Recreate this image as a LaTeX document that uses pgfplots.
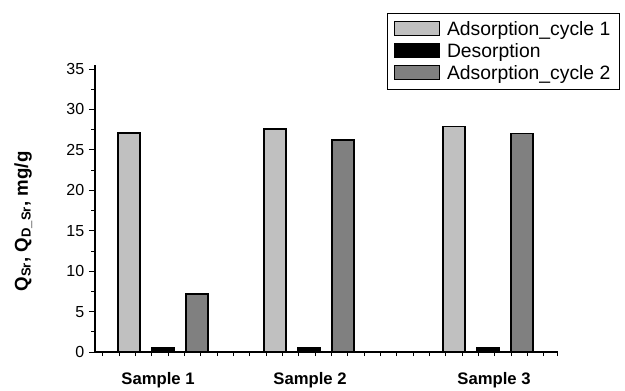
\documentclass[border=0pt]{standalone}
\usepackage{pgfplots}
\pgfplotsset{compat=1.18}
\usepackage{fontspec}
\setmainfont{Liberation Sans}
\definecolor{lgray}{HTML}{C0C0C0}
\definecolor{dgray}{HTML}{808080}
\begin{document}
\begin{tikzpicture}[x=0.75pt,y=0.75pt]
\path[use as bounding box] (0,0) rectangle (625,390);
\begin{axis}[
  at={(71.25pt,28.5pt)}, anchor=origin,
  scale only axis, width=347.25pt, height=215.25pt,
  xmin=95, xmax=558, ymin=0, ymax=35.5,
  axis x line=bottom, axis y line=left,
  axis line style={-, line width=0.8pt},
  ytick={0,5,...,35}, minor ytick={2.5,7.5,...,32.5},
  xtick={158,310,494}, xticklabels={Sample 1,Sample 2,Sample 3},
  xticklabel style={font=\fontsize{12.5}{14}\selectfont\bfseries, yshift=-7pt},
  minor xtick={102.7,119.0,135.3,151.7,168.0,184.3,200.7,217.0,233.3,249.7,266.0,282.3,298.7,315.0,331.3,347.7,364.0,380.3,396.7,413.0,429.3,445.7,462.0,478.3,494.7,511.0,527.3,543.7,557.7},
  tick align=outside, tick pos=left,
  major tick length=4.5pt, minor tick length=3pt,
  major x tick style={draw=none},
  every tick/.style={black, line width=0.6pt},
  yticklabel style={font=\fontsize{12}{14}\selectfont},
  /pgf/number format/assume math mode=true,
  ylabel={\textbf{Q\textsubscript{Sr}, Q\textsubscript{D\_Sr}, mg/g}},
  ylabel style={font=\fontsize{14}{16}\selectfont, at={(axis description cs:-0.155,0.455)}, anchor=center},
  legend style={at={(1.134,1.181)}, anchor=north east, draw=black, line width=0.5pt,
    font=\fontsize{14.5}{16}\selectfont, row sep=0.5pt, inner sep=3pt, inner xsep=5pt, inner ysep=4pt,
    /tikz/every odd column/.append style={column sep=3pt}},
  legend cell align=left,
  legend image code/.code={\draw[#1, line width=0.8pt] (0cm,-0.17cm) rectangle (1.2cm,0.22cm);},
  clip=false,
]
\addplot[ybar, bar width=16.5pt, bar shift=0pt, fill=lgray, draw=black, line width=1.1pt]
  coordinates {(129,27.1) (275,27.6) (454,27.9)};
\addlegendentry{Adsorption\_cycle 1}
\addplot[ybar, bar width=16.5pt, bar shift=0pt, fill=black, draw=black, line width=1.1pt]
  coordinates {(163,0.5) (309,0.5) (488,0.5)};
\addlegendentry{Desorption}
\addplot[ybar, bar width=16.5pt, bar shift=0pt, fill=dgray, draw=black, line width=1.1pt]
  coordinates {(197,7.2) (343,26.2) (522,27.0)};
\addlegendentry{Adsorption\_cycle 2}
\end{axis}
\end{tikzpicture}
\end{document}
